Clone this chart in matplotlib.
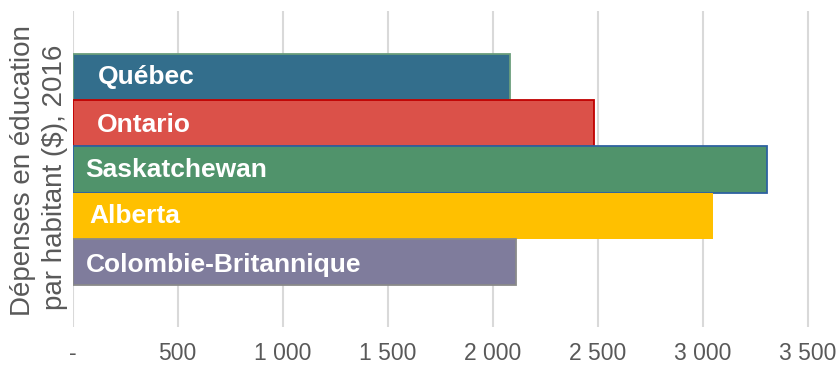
import matplotlib
matplotlib.use("Agg")
import matplotlib.pyplot as plt
from matplotlib.ticker import FixedLocator, FuncFormatter

plt.rcParams['font.family'] = ['Liberation Sans', 'DejaVu Sans']

# Per-capita education spending by province, 2016
provinces = ["Québec", "Ontario", "Saskatchewan", "Alberta", "Colombie-Britannique"]
spending = [2085, 2485, 3305, 3050, 2110]
xticks = [0, 500, 1000, 1500, 2000, 2500, 3000, 3500]

# Styling
fills = ["#336e8c", "#db5149", "#50936b", "#ffc000", "#7f7c9c"]
edges = ["#6b9e7c", "#c00000", "#2e62a0", "#ffc000", "#8a8a8a"]
label_dx = [25, 24, 13, 17, 13]   # pixels from the bar origin
label_dy = [0, -2, -1, 0, -3]     # pixels, upward positive

W, H = 838, 367
fig = plt.figure(figsize=(W / 100, H / 100), dpi=100)
ax = fig.add_axes([72.5 / W, 1 - 327 / H, (830 - 72.5) / W, (327 - 11) / H])

ypos = list(range(len(provinces)))
bars = ax.barh(ypos, spending, height=1.0, color=fills, edgecolor=edges,
               linewidth=1.3, zorder=3)
bars[3].set_linewidth(0)

ax.set_ylim(4.5 + 0.905, -0.5 - 0.925)
x_per_px = 500 / 105.0
ax.set_xlim(0, (830 - 72.5) * x_per_px)

for i, name in enumerate(provinces):
    ax.annotate(name, xy=(0, i), xytext=(label_dx[i], label_dy[i]),
                textcoords="offset pixels", ha="left", va="center",
                color="white", fontsize=19, fontweight="bold", zorder=4)

ax.xaxis.set_major_locator(FixedLocator(xticks))
ax.xaxis.set_major_formatter(FuncFormatter(
    lambda v, p: "-" if v == 0 else f"{int(v):,}".replace(",", " ")))
ax.tick_params(axis="x", length=0, labelsize=16.5, labelcolor="#595959", pad=11)
ax.set_yticks([])
ax.grid(axis="x", color="#d9d9d9", linewidth=1.5, zorder=0)
for s in ax.spines.values():
    s.set_visible(False)

fig.text(23 / W, 1 - 171 / H, "Dépenses en éducation", rotation=90,
         ha="center", va="center", fontsize=20, color="#595959")
fig.text(55 / W, 1 - 177 / H, "par habitant ($), 2016", rotation=90,
         ha="center", va="center", fontsize=20, color="#595959")

fig.savefig("out.png", dpi=100)
